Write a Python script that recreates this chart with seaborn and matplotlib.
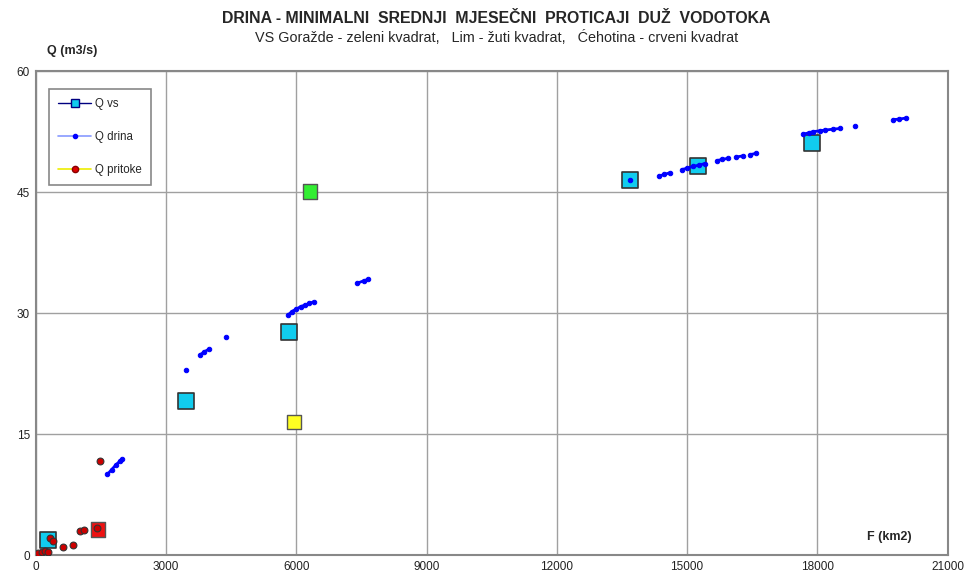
import matplotlib
matplotlib.use('Agg')
import matplotlib.pyplot as plt
from matplotlib.lines import Line2D
import numpy as np
import pandas as pd
import seaborn as sns

# Q vs - stations (cyan squares)
vs_F = [290, 3470, 5840, 13690, 15260, 17880]
vs_Q = [1.9, 19.1, 27.6, 46.5, 48.2, 51.1]

# special stations: VS Gorazde (green), Lim (yellow), Cehotina (red)
sp_F = [6320, 5950, 1440]
sp_Q = [45.1, 16.5, 3.2]
sp_col = ['#33ee33', '#ffff22', '#ee1111']

# Q drina - profiles along the river, grouped in short segments
dr_seg = [1, 1, 1, 1, 1, 2, 3, 3, 3, 4,
          5, 5, 5, 5, 5, 5, 5, 6, 6, 6, 7,
          8, 8, 8, 9, 9, 9, 9, 9, 10, 10, 10, 11, 11, 12, 12,
          13, 13, 13, 13, 13, 13, 13, 14, 15, 15, 15]
dr_F = [1650, 1750, 1850, 1950, 1985, 3470, 3780, 3880, 3980, 4380,
        5820, 5900, 6000, 6100, 6200, 6300, 6400, 7400, 7550, 7660, 13690,
        14360, 14480, 14600, 14880, 14990, 15140, 15280, 15410, 15680, 15800, 15950, 16120, 16290, 16450, 16580,
        17680, 17800, 17900, 18050, 18180, 18350, 18530, 18870, 19750, 19880, 20050]
dr_Q = [10.0, 10.6, 11.2, 11.7, 11.9, 22.9, 24.8, 25.2, 25.5, 27.0,
        29.8, 30.2, 30.5, 30.8, 31.0, 31.2, 31.4, 33.7, 34.0, 34.2, 46.5,
        47.0, 47.2, 47.4, 47.8, 47.95, 48.2, 48.35, 48.55, 48.9, 49.05, 49.2, 49.35, 49.5, 49.65, 49.8,
        52.2, 52.35, 52.5, 52.6, 52.7, 52.8, 52.9, 53.2, 54.0, 54.05, 54.2]

# Q pritoke - tributaries (red dots)
pr_F = [0, 60, 140, 220, 280, 320, 400, 620, 870, 1010, 1120, 1420, 1490]
pr_Q = [0.0, 0.2, 0.4, 0.5, 0.4, 2.15, 1.7, 1.0, 1.3, 2.95, 3.05, 3.4, 11.65]

sns.set_style('white')
plt.rcParams['font.family'] = ['Liberation Sans', 'DejaVu Sans']

fig = plt.figure(figsize=(9.64, 5.74), dpi=100)
ax = fig.add_axes([0.037, 0.033, 0.946, 0.843])

sns.scatterplot(x=sp_F, y=sp_Q, hue=sp_col, palette=dict(zip(sp_col, sp_col)),
                marker='s', s=110, edgecolor='#555555', linewidth=1.0,
                legend=False, ax=ax, zorder=3)
sns.scatterplot(x=vs_F, y=vs_Q, color='#11ccee', marker='s', s=120,
                edgecolor='#333333', linewidth=1.2, legend=False, ax=ax, zorder=3)

drina = pd.DataFrame({'F': dr_F, 'Q': dr_Q, 'seg': dr_seg})
sns.lineplot(data=drina, x='F', y='Q', units='seg', estimator=None, sort=False,
             color='#0000ff', lw=2.0, marker='o', markersize=3.2,
             markeredgecolor='#0000ff', legend=False, ax=ax, zorder=4)

sns.scatterplot(x=pr_F, y=pr_Q, color='#cc0000', s=24, edgecolor='#333333',
                linewidth=0.8, legend=False, ax=ax, zorder=5)

ax.set_xlim(0, 21000)
ax.set_ylim(0, 60)
ax.set_xticks(np.arange(0, 21001, 3000))
ax.set_yticks(np.arange(0, 61, 15))
ax.grid(True, color='#a0a0a0', lw=1.0)
for sp in ax.spines.values():
    sp.set_color('#888888')
    sp.set_linewidth(1.5)
ax.tick_params(labelsize=8.5, colors='#222222', length=0, pad=4)
ax.set_xlabel('')
ax.set_ylabel('')

ax.text(0.012, 1.03, 'Q (m3/s)', transform=ax.transAxes, fontsize=9,
        fontweight='bold', ha='left', va='bottom')
ax.text(0.912, 0.025, 'F (km2)', transform=ax.transAxes, fontsize=9,
        fontweight='bold', ha='left', va='bottom')

fig.text(0.515, 0.968, 'DRINA - MINIMALNI  SREDNJI  MJESEČNI  PROTICAJI  DUŽ  VODOTOKA',
         ha='center', va='center', fontsize=11.4, fontweight='bold')
fig.text(0.515, 0.935, 'VS Goražde - zeleni kvadrat,   Lim - žuti kvadrat,   Ćehotina - crveni kvadrat',
         ha='center', va='center', fontsize=10.4)

handles = [
    Line2D([], [], color='#000080', lw=1, marker='s', markersize=6,
           markerfacecolor='#11ccee', markeredgecolor='#000080'),
    Line2D([], [], color='#8899ff', lw=1.2, marker='o', markersize=3,
           markerfacecolor='#0000ff', markeredgecolor='#0000ff'),
    Line2D([], [], color='#eeee00', lw=1.2, marker='o', markersize=4.5,
           markerfacecolor='#dd0000', markeredgecolor='#880000'),
]
leg = ax.legend(handles, ['Q vs', 'Q drina', 'Q pritoke'], loc='upper left',
                bbox_to_anchor=(0.008, 0.975), fontsize=8.3, labelspacing=1.8,
                handlelength=2.9, handletextpad=0.3, borderpad=0.8,
                fancybox=False, framealpha=1, edgecolor='#888888')
leg.get_frame().set_linewidth(1.2)

fig.savefig('out.png', dpi=100)
